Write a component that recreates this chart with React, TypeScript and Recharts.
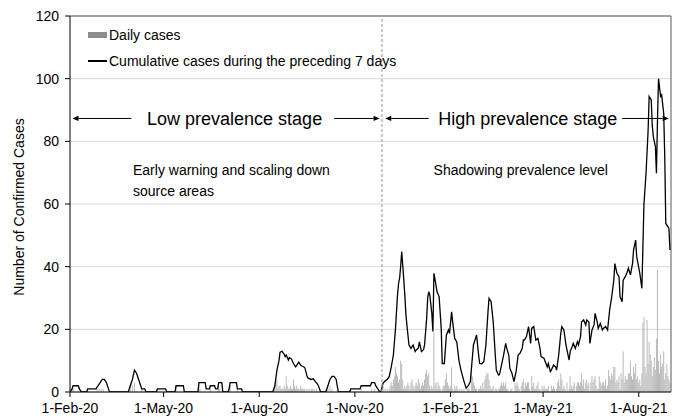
import React from 'react';
import {
  ComposedChart,
  Bar,
  Line,
  XAxis,
  YAxis,
  CartesianGrid,
  ReferenceLine,
  ReferenceDot,
  Legend,
} from 'recharts';

// ---- time axis (day offsets from 1-Feb-2020) ----
const START_UTC = Date.UTC(2020, 1, 1);
const MONTHS = ['Jan', 'Feb', 'Mar', 'Apr', 'May', 'Jun', 'Jul', 'Aug', 'Sep', 'Oct', 'Nov', 'Dec'];
const xTicks = [0, 90, 182, 274, 366, 455, 547];
const yTicks = [0, 20, 40, 60, 80, 100, 120];
const LAST_DAY = 578;
const STAGE_SPLIT_DAY = 300;

// ---- daily cases, low prevalence stage: [day, cases] ----
const lowStageDailyCases: [number, number][] = [
  [2, 1], [3, 1], [17, 1], [26, 1], [28, 1], [30, 1], [32, 1], [58, 2], [60, 2], [62, 3], [69, 1],
  [84, 1], [102, 2], [124, 2], [125, 1], [135, 2], [143, 2], [144, 1], [153, 1], [154, 2], [161, 1],
  [197, 2], [198, 3], [199, 4], [200, 1], [201, 2], [202, 2], [203, 1], [204, 1], [205, 1], [206, 2],
  [207, 1], [208, 5], [209, 2], [210, 1], [211, 1], [212, 2], [213, 1], [214, 1], [215, 4], [216, 2],
  [217, 1], [218, 2], [219, 1], [220, 1], [221, 1], [222, 2], [223, 1], [224, 1], [225, 1], [226, 1],
  [228, 1], [230, 1], [232, 1], [233, 1], [235, 1], [237, 1],
  [248, 2], [250, 2], [252, 1], [270, 1], [280, 1], [290, 1], [293, 1],
];

// ---- daily cases, high prevalence stage: one value per day from day 300 ----
const HIGH_STAGE_START = 300;
const highStageDailyCases: number[] = [
  1, 2, 0, 1, 0, 1, 0, 1, 2, 3,
  2, 4, 5, 8, 6, 5, 3, 4, 10, 9,
  4, 1, 2, 1, 2, 3, 2, 1, 3, 4,
  2, 1, 2, 3, 2, 4, 3, 1, 2, 3,
  2, 4, 6, 7, 5, 6, 2, 1, 2, 1,
  19, 2, 3, 1, 3, 2, 1, 0, 1, 2,
  2, 4, 6, 3, 2, 1, 2, 8, 1, 0,
  2, 1, 2, 1, 0, 1, 0, 1, 0, 1,
  0, 0, 1, 1, 1, 0, 6, 5, 3, 2,
  1, 1, 0, 1, 1, 2, 1, 3, 1, 4,
  5, 6, 6, 4, 2, 1, 1, 2, 0, 1,
  1, 0, 1, 1, 2, 3, 2, 3, 2, 3,
  1, 1, 0, 0, 1, 1, 0, 0, 3, 2,
  3, 2, 1, 0, 2, 3, 4, 1, 3, 2,
  3, 3, 1, 0, 5, 2, 3, 1, 1, 2,
  3, 1, 1, 0, 2, 1, 2, 1, 1, 1,
  2, 0, 0, 2, 1, 2, 1, 0, 1, 3,
  4, 2, 6, 4, 1, 2, 1, 0, 3, 0,
  1, 5, 2, 1, 2, 3, 0, 2, 3, 3,
  2, 3, 6, 2, 4, 1, 3, 4, 2, 3,
  0, 3, 5, 3, 4, 5, 2, 1, 1, 5,
  3, 2, 3, 3, 2, 4, 1, 2, 7, 5,
  4, 6, 5, 8, 8, 3, 4, 3, 5, 1,
  6, 4, 13, 3, 5, 4, 4, 6, 6, 10,
  5, 4, 8, 6, 9, 4, 5, 3, 4, 2,
  6, 22, 24, 8, 6, 23, 9, 16, 12, 10,
  5, 8, 11, 7, 17, 39, 10, 6, 12, 8,
  9, 13, 4, 6, 9, 5, 4, 3,
];

// ---- cumulative cases during the preceding 7 days: [day, value] ----
const weeklySumLow: [number, number][] = [
  [0, 0], [2, 1], [3, 2], [8, 2], [9, 1], [11, 0],
  [16, 0], [17, 1], [25, 1], [27, 2], [29, 3], [31, 4], [33, 4], [35, 3], [37, 1], [38, 0],
  [56, 0], [58, 2], [60, 4], [62, 7], [64, 6], [66, 4], [68, 2], [69, 1], [72, 1], [73, 0],
  [83, 0], [84, 1], [92, 1], [93, 0],
  [101, 0], [102, 2], [109, 2], [110, 0],
  [123, 0], [124, 3], [130, 3], [131, 1], [134, 1], [135, 2], [139, 2], [140, 1], [142, 1], [143, 3], [146, 3], [147, 0],
  [152, 0], [153, 1], [154, 3], [160, 3], [161, 1], [165, 1], [166, 0],
  [195, 0], [197, 2], [199, 7], [201, 10], [202, 12.7], [204, 13], [206, 12], [207, 11.3], [208, 11.8],
  [210, 10.2], [211, 11], [213, 10.5], [215, 9], [217, 8], [219, 9], [220, 9.5], [222, 8.5], [223, 8.3],
  [225, 8], [226, 7.6], [228, 5], [229, 4.4], [232, 4], [234, 4.2], [236, 3.3], [238, 2.5], [239, 1.9], [241, 0],
  [246, 0], [248, 2], [250, 4], [252, 5], [254, 5], [256, 4], [257, 2], [258, 0],
  [269, 0], [270, 1], [279, 1], [280, 2], [289, 2], [290, 3], [293, 3], [294, 2], [296, 1], [298, 0],
];
const weeklySumHigh: [number, number][] = [
  [299, 0], [301, 2.8], [303, 3.5], [305, 4], [307, 4.9], [309, 8], [311, 11.8], [313, 20], [314, 25.6],
  [315, 31], [316, 34.7], [317, 36.3], [318, 40], [319, 44.8], [320, 40.5], [322, 31], [323, 25], [324, 21.4],
  [326, 15], [328, 13.9], [330, 15], [332, 12.9], [333, 13.4], [335, 14], [336, 16], [338, 12.9], [340, 13.5],
  [341, 15], [343, 23.5], [344, 30], [345, 32], [346, 31], [347, 28], [348, 25], [349, 19.3], [350, 37.9],
  [351, 36], [353, 32], [355, 30.4], [357, 20.3], [358, 9.1], [360, 9.1], [362, 18.2], [364, 19.8], [365, 18.7],
  [367, 25.6], [368, 22.4], [370, 17.1], [372, 16], [374, 10.2], [376, 7], [378, 4.5], [379, 3.3], [381, 1.2],
  [383, 2], [385, 3.3], [388, 15], [390, 17.1], [391, 18.2], [393, 11.8], [394, 9.1], [396, 9], [398, 9.7],
  [400, 15], [402, 25.6], [403, 29.9], [405, 28.8], [407, 22.4], [409, 11.8], [410, 7], [412, 5.4], [413, 5.5],
  [415, 8.6], [417, 11.8], [419, 15.5], [420, 14], [422, 11.8], [423, 7.6], [425, 6], [427, 3.3], [429, 6.5],
  [431, 11.8], [433, 12.5], [435, 14], [436, 16.6], [437, 16.6], [439, 17.7], [441, 20.9], [443, 15.5],
  [444, 20.3], [446, 20.9], [448, 16.6], [450, 17.1], [452, 13.9], [453, 11.3], [456, 10.7], [457, 9.7],
  [459, 8], [460, 9.1], [462, 6.5], [463, 7], [465, 8.6], [467, 8], [468, 7], [470, 11.8], [472, 18.7],
  [473, 20.9], [475, 19.8], [477, 15], [478, 13.4], [480, 10.2], [481, 12.9], [483, 14.5], [484, 15.5],
  [486, 13.9], [488, 16], [489, 15], [491, 17.7], [492, 22.4], [494, 23], [496, 21.4], [497, 23], [499, 22.4],
  [500, 15.5], [502, 19.8], [504, 21.4], [505, 25.1], [507, 22.4], [508, 20.3], [510, 21.9], [512, 19.8],
  [513, 20.3], [515, 20.9], [517, 19.8], [519, 26.2], [521, 30.4], [523, 35.7], [524, 41], [526, 37.9],
  [528, 36.8], [529, 30.4], [531, 28.8], [532, 35.7], [534, 36.8], [536, 38.4], [537, 39.5], [539, 37.4],
  [541, 41], [542, 45.3], [544, 48.5], [545, 43.2], [548, 37.9], [550, 33.1], [551, 46.8], [552, 60],
  [554, 69.8], [556, 83.6], [557, 94.3], [559, 93.2], [560, 85], [561, 81.5], [563, 78.3], [564, 69.8],
  [565, 86.8], [566, 100], [568, 94.3], [569, 94.8], [571, 88.9], [572, 75], [573, 53.8], [575, 52.8],
  [576, 52.2], [577, 45.3],
];

// ---- annotation texts ----
const STAGE_Y = 87.3;
const lowStageLabel = 'Low prevalence stage';
const highStageLabel = 'High prevalence stage';
const lowNote = ['Early warning and scaling down', 'source areas'];
const highNote = 'Shadowing prevalence level';

type Row = { day: number; cases?: number; sum?: number };

function buildRows(): Row[] {
  const rows: Row[] = [];
  for (let d = 0; d < LAST_DAY; d++) rows.push({ day: d });
  lowStageDailyCases.forEach(([d, v]) => { rows[d].cases = v; });
  highStageDailyCases.forEach((v, i) => { rows[HIGH_STAGE_START + i].cases = v; });
  [...weeklySumLow, ...weeklySumHigh].forEach(([d, v]) => { rows[d].sum = v; });
  return rows;
}
const rows = buildRows();

const formatDay = (day: number) => {
  const dt = new Date(START_UTC + day * 86400000);
  return `${dt.getUTCDate()}-${MONTHS[dt.getUTCMonth()]}-${String(dt.getUTCFullYear()).slice(2)}`;
};

const FONT = '"Liberation Sans", Arial, sans-serif';

const arrowShape = (props: any) => {
  const { x1, y1, x2, y2 } = props;
  const dir = x2 > x1 ? 1 : -1;
  const len = 6;
  const half = 2.6;
  return (
    <g>
      <line x1={x1} y1={y1} x2={x2 - dir * len} y2={y2} stroke="#000" strokeWidth={1} />
      <polygon
        points={`${x2},${y2} ${x2 - dir * len},${y2 - half} ${x2 - dir * len},${y2 + half}`}
        fill="#000"
      />
    </g>
  );
};

const textShape = (lines: string[], size: number, anchor: 'start' | 'middle') => (props: any) => {
  const { cx, cy } = props;
  return (
    <text x={cx} y={cy} fontSize={size} fontFamily={FONT} fill="#000" textAnchor={anchor}>
      {lines.map((l, i) => (
        <tspan key={i} x={cx} dy={i === 0 ? 0 : 21}>{l}</tspan>
      ))}
    </text>
  );
};

const LegendContent = () => (
  <div style={{ fontFamily: FONT, fontSize: 14, color: '#000' }}>
    <div style={{ display: 'flex', alignItems: 'center', height: 26 }}>
      <span style={{ display: 'inline-block', width: 19, height: 6, background: '#8c8c8c', marginRight: 2 }} />
      <span>Daily cases</span>
    </div>
    <div style={{ display: 'flex', alignItems: 'center', height: 26 }}>
      <span style={{ display: 'inline-block', width: 19, height: 1.3, background: '#000', marginRight: 2 }} />
      <span>Cumulative cases during the preceding 7 days</span>
    </div>
  </div>
);

export default function App() {
  return (
    <div style={{ position: 'absolute', left: 0, top: 0, width: 678, height: 418, background: '#fff' }}>
      <ComposedChart
        width={678}
        height={418}
        data={rows}
        margin={{ top: 16, right: 7, bottom: 0, left: 0 }}
      >
        <CartesianGrid vertical={false} stroke="#d9d9d9" />
        <XAxis
          dataKey="day"
          type="number"
          domain={[0, LAST_DAY]}
          ticks={xTicks}
          interval={0}
          tickFormatter={formatDay}
          height={26}
          tickSize={5}
          tickMargin={6}
          allowDataOverflow
          axisLine={{ stroke: '#000' }}
          tickLine={{ stroke: '#000' }}
          tick={{ fontSize: 14, fill: '#000', fontFamily: FONT }}
        />
        <YAxis
          domain={[0, 120]}
          ticks={yTicks}
          interval={0}
          width={70}
          tickSize={5}
          tickMargin={6}
          allowDataOverflow
          axisLine={{ stroke: '#000' }}
          tickLine={{ stroke: '#000' }}
          tick={{ fontSize: 14, fill: '#000', fontFamily: FONT }}
          label={{
            content: (p: any) => {
              const vb = p.viewBox || { y: 16, height: 376 };
              return (
                <text
                  transform={`translate(23.5, ${vb.y + vb.height / 2 + 3}) rotate(-90)`}
                  textAnchor="middle"
                  fontSize={14}
                  fontFamily={FONT}
                  fill="#000"
                >
                  Number of Confirmed Cases
                </text>
              );
            },
          }}
        />
        <ReferenceLine y={120} stroke="#595959" strokeWidth={1} />
        <ReferenceLine x={LAST_DAY} stroke="#595959" strokeWidth={1} />
        <Bar dataKey="cases" fill="#bababa" barSize={1} isAnimationActive={false} />
        <Line
          dataKey="sum"
          type="linear"
          stroke="#000"
          strokeWidth={1.3}
          dot={false}
          activeDot={false}
          connectNulls
          isAnimationActive={false}
        />
        <ReferenceLine x={STAGE_SPLIT_DAY} stroke="#a6a6a6" strokeWidth={1.2} strokeDasharray="3 2" />
        <ReferenceLine segment={[{ x: 59, y: STAGE_Y }, { x: 2.4, y: STAGE_Y }]} shape={arrowShape} />
        <ReferenceLine segment={[{ x: 254, y: STAGE_Y }, { x: 297.7, y: STAGE_Y }]} shape={arrowShape} />
        <ReferenceLine segment={[{ x: 345, y: STAGE_Y }, { x: 303.2, y: STAGE_Y }]} shape={arrowShape} />
        <ReferenceLine segment={[{ x: 531, y: STAGE_Y }, { x: 575.8, y: STAGE_Y }]} shape={arrowShape} />
        <ReferenceDot x={158.3} y={STAGE_Y - 2} r={0} shape={textShape([lowStageLabel], 18, 'middle')} />
        <ReferenceDot x={440.3} y={STAGE_Y - 2} r={0} shape={textShape([highStageLabel], 18, 'middle')} />
        <ReferenceDot x={60.6} y={69.3} r={0} shape={textShape(lowNote, 14, 'start')} />
        <ReferenceDot x={349.7} y={69.1} r={0} shape={textShape([highNote], 14, 'start')} />
        <Legend
          layout="vertical"
          align="center"
          verticalAlign="middle"
          wrapperStyle={{ left: 88, top: 22, width: 'auto' }}
          content={() => <LegendContent />}
        />
      </ComposedChart>
    </div>
  );
}
